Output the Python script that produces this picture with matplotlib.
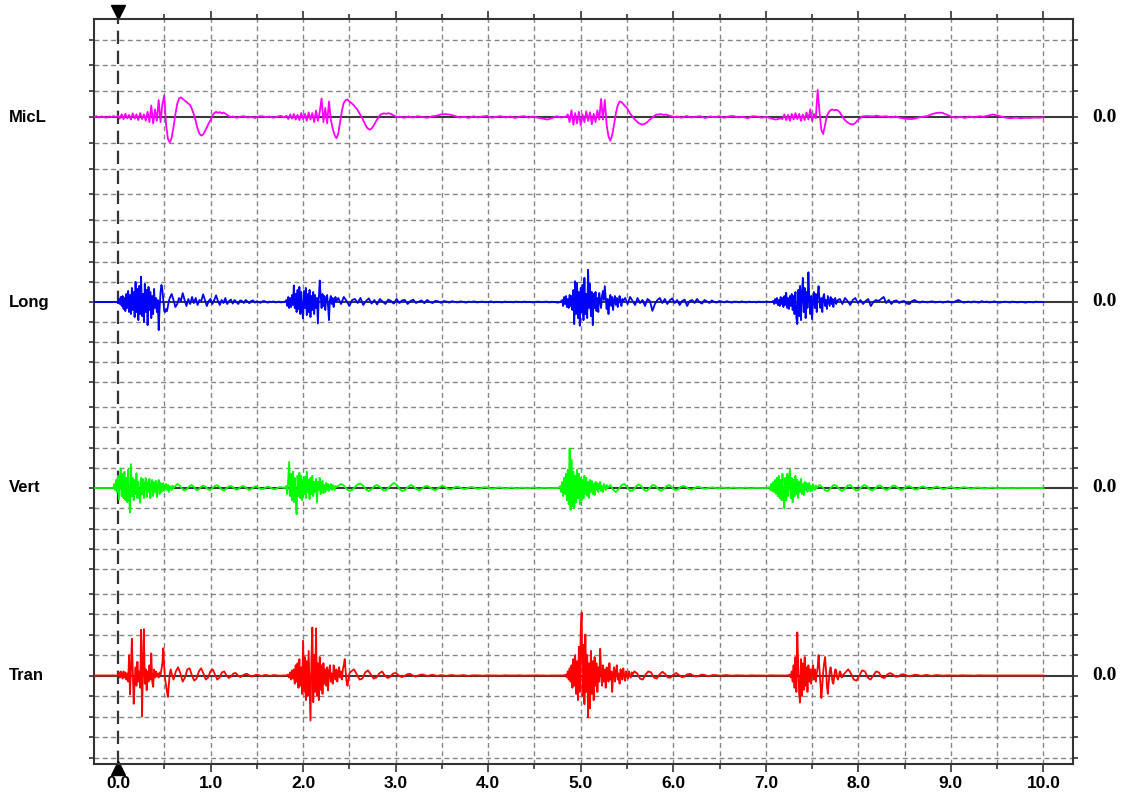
import numpy as np
import matplotlib
matplotlib.use("Agg")
import matplotlib.pyplot as plt
import matplotlib.transforms as mtransforms

# ---- channel data: each channel is a list of sampled spans (t_start, t_end) with
# ---- the sample values (in grid divisions of that channel) read off the record
channels = ["MicL", "Long", "Vert", "Tran"]
colors = ["#ff00ff", "#0000ff", "#00ff00", "#ff0000"]

micl_spans = [(-0.26, -0.02), (0.0, 1.22), (1.24, 1.80), (1.82, 3.02), (3.04, 4.84),
              (4.86, 6.02), (6.04, 7.16), (7.18, 8.06), (8.10, 10.0)]
micl_vals = [
    [0, 0.03, -0.02, 0.02, 0, -0.03, 0.02, 0, 0.03, 0],
    [0.05, -0.06, 0.1, -0.08, 0.12, -0.05, 0.08, -0.1, 0.14, -0.06, 0.1, -0.12, 0.15, -0.08, 0.1, -0.14, 0.2,
     -0.2, 0.45, -0.25, 0.3, -0.15, 0.66, -0.2, 0.5, 0.83,
     -0.3, -0.85, -0.99, -0.8, -0.4, 0.1, 0.5, 0.72, 0.76, 0.7, 0.64, 0.58, 0.52, 0.46, 0.3, 0.1,
     -0.15, -0.45, -0.65, -0.72, -0.68, -0.55, -0.4, -0.25, -0.12, 0.05, 0.15, 0.2, 0.16, 0.19,
     0.14, 0.17, 0.13, 0.08, 0.03, 0.0],
    [0.02, -0.03, 0.01, 0.03, -0.02, 0, -0.04, 0.02, 0.03, -0.01, 0.02, -0.03, 0.01, 0.04, -0.02],
    [0.05, -0.08, 0.1, -0.06, 0.12, -0.1, 0.08, -0.12, 0.15, -0.08, 0.12, -0.15, 0.18, -0.1, 0.15, -0.2, 0.25, -0.15, 0.2,
     0.72, -0.2, 0.35, -0.25, 0.6, -0.1, -0.45, -0.7, -0.82, -0.65, -0.2, 0.25, 0.55, 0.65, 0.68, 0.6,
     0.55, 0.48, 0.4, 0.32, 0.2, 0.08, -0.05, -0.2, -0.35, -0.45, -0.49, -0.45, -0.35, -0.22, -0.1,
     0.02, 0.1, 0.13, 0.14, 0.12, 0.15, 0.13, 0.1, 0.06, 0.02, 0.0],
    [0.01, -0.03, 0.02, -0.02, 0.03, 0, -0.03, 0.02, 0.05, 0.1, 0.11, 0.09, 0.04, -0.02, 0.01, -0.04,
     0.03, -0.02, 0.02, 0.04, -0.03, 0.01, 0.03, -0.02, 0.02, -0.04, 0.01, 0.03, -0.02, 0.02, -0.03,
     -0.06, -0.1, -0.04, 0.03, -0.02, 0.01],
    [0.1, -0.2, 0.26, -0.3, 0.15, -0.25, 0.2, -0.33, 0.1, -0.2, 0.22, -0.15, 0.18, -0.28, 0.12, -0.2, 0.26, -0.1,
     0.7, -0.1, 0.66, -0.3, -0.75, -0.92, -0.7, -0.3, 0.15, 0.45, 0.6, 0.58, 0.5, 0.42, 0.35, 0.22,
     0.1, 0.02, -0.08, -0.15, -0.22, -0.26, -0.29, -0.28, -0.25, -0.2, -0.12, -0.06, 0.0, 0.05, 0.1,
     0.09, 0.11, 0.1, 0.08, 0.1, 0.07, 0.05, 0.03, 0.01, 0.0],
    [0.02, -0.03, 0.04, -0.02, 0.01, 0.03, -0.04, 0.02, -0.01, 0.03, -0.03, 0.02, 0.04, -0.02, 0.01,
     -0.05, 0.03, 0.02, -0.03, 0.01, -0.06, -0.1, -0.05],
    [-0.08, 0.1, -0.12, 0.08, -0.15, 0.12, -0.1, 0.15, -0.08, 0.12, -0.15, 0.1, -0.12, 0.18, -0.1, 0.3, -0.15, 0.12, -0.05,
     1.05, 0.2, -0.5, -0.66, -0.3, 0.05, 0.18, 0.27, 0.29, 0.26, 0.28, 0.25, 0.18, 0.06, -0.05, -0.14,
     -0.2, -0.25, -0.28, -0.29, -0.25, -0.18, -0.1, -0.04, 0.02, 0.03],
    [0.04, 0.02, 0.05, 0.01, 0.03, -0.02, 0.02, -0.03, -0.06, -0.08, -0.07, -0.02, 0.01, 0.04, 0.12,
     0.16, 0.17, 0.1, 0.02, -0.03, 0.01, -0.04, 0.02, -0.02, 0.03, 0.01, 0.05, 0.1, 0.06, 0.01, -0.03,
     -0.05, -0.02, -0.05, -0.03, -0.04, -0.02, -0.03, -0.01],
]

long_spans = [(-0.26, -0.02), (0.0, 0.55), (0.56, 1.80), (1.82, 2.36), (2.38, 4.78),
              (4.80, 5.46), (5.48, 7.06), (7.08, 7.78), (7.80, 10.0)]
long_vals = [
    [0, 0],
    [0.0, 0.15, -0.1, 0.25, -0.2, 0.3, -0.35, 0.2, -0.45, 0.4, -0.3, 0.55, -0.5, 0.35, -0.6, 0.7,
     -0.4, 0.5, -0.75, 1.0, -0.5, 0.65, -0.9, 0.8, -0.6, 1.26, -0.7, 0.4, -1.0, 0.9, -0.5, 0.6,
     -1.15, 0.75, -0.4, 0.5, -0.8, 0.3, -0.6, 0.65, -0.3, 0.2, -0.5, 0.1, -1.4, -0.3, 0.5, 0.85,
     0.6, 0.1, -0.45, -0.5, -0.35, -0.45, -0.2, 0.05],
    [0.2, 0.4, 0.1, -0.25, -0.1, 0.2, 0.05, 0.44, 0.1, -0.2, 0.15, -0.1, 0.25, -0.05, 0.2, -0.15,
     0.1, 0.05, 0.38, 0.1, -0.2, 0.05, 0.15, -0.1, 0.1, 0.33, 0.05, -0.15, 0.1, -0.05, 0.2, -0.1,
     0.05, 0.12, -0.08, 0.1, 0.0, -0.1, 0.08, 0.05, -0.05, 0.1, 0.02, -0.06, 0.05, 0.08, -0.03,
     0.04, 0.0, -0.04, 0.03, 0.05, 0.0, -0.03, 0.02, 0.0, 0.03, -0.02, 0.0, 0.02, -0.02, 0.0, 0.0],
    [0.1, -0.2, 0.25, -0.3, 0.2, -0.25, 0.35, -0.15, 0.82, -0.3, 0.4, -0.5, 0.6, -0.35, 0.75, -0.6,
     0.5, -0.4, -0.82, 0.55, -0.3, 0.7, -0.65, 0.4, -0.5, 0.6, -0.75, 0.3, -0.4, 0.5, -0.6, 0.35,
     -0.3, 0.2, -1.07, 0.2, 1.07, 0.3, -0.3, 0.4, -0.2, 0.3, -0.4, 0.15, 0.35, -0.2, -0.9, 0.1,
     0.3, -0.1, 0.2, -0.25, 0.1, 0.25, 0.05],
    [0.2, -0.1, 0.25, 0.05, -0.2, 0.1, 0.15, -0.05, 0.2, -0.15, 0.05, 0.18, -0.08, 0.1, -0.12, 0.15,
     0.02, -0.1, 0.12, 0.05, -0.08, 0.15, -0.05, 0.08, 0.1, -0.1, 0.05, 0.12, -0.05, 0.02, 0.08,
     -0.06, 0.1, 0.0, -0.05, 0.06, 0.03, -0.04, 0.05, 0.02, -0.03, 0.04, 0.0, -0.02, 0.03, 0.01,
     -0.03, 0.02, 0.0, 0.03, -0.02, 0.01, 0.02, -0.01, 0.0, 0.03, -0.02, 0.01, 0.0, -0.02, 0.02,
     0.0, 0.01, -0.02, 0.02, 0.0, -0.01, 0.02, 0.0, 0.01, -0.02, 0.0, 0.02, -0.01, 0.0, 0.02,
     -0.02, 0.01, 0.0, -0.03, 0.0],
    [0.1, -0.2, 0.25, -0.1, 0.3, -0.25, 0.15, -0.3, 0.35, -0.2, 0.3, -0.4, 0.6, -1.1, 1.03, -0.6,
     0.95, -0.8, 0.5, -1.18, 0.7, -0.5, 0.85, -0.9, 1.2, -0.6, 0.4, -0.8, 1.6, -0.3, 0.9, -0.7,
     0.5, -1.15, 0.4, -0.3, 0.5, -0.45, 0.2, -0.5, 0.45, 0.1, -0.3, 0.3, 0.55, 0.1, 0.79, 0.2,
     -0.35, 0.15, -0.6, 0.1, 0.35, -0.2, 0.25, -0.4, 0.1, 0.3, -0.15, 0.2, -0.25, 0.05, 0.3, 0.0,
     -0.2, 0.15, 0.05],
    [0.2, -0.1, 0.25, 0.05, -0.15, 0.2, -0.05, 0.1, -0.2, 0.15, 0.05, -0.44, -0.1, 0.1, 0.2, -0.05,
     0.15, -0.1, 0.08, 0.18, -0.05, 0.1, -0.15, 0.05, 0.12, -0.2, 0.05, 0.1, -0.05, 0.15, 0.0,
     -0.08, 0.1, 0.03, -0.05, 0.08, 0.0, -0.03, 0.05, 0.02, -0.02, 0.04, 0.0, -0.03, 0.02, 0.01,
     -0.02, 0.03, 0.0, -0.02, 0.02, 0.0, 0.01, -0.02, 0.02, 0.0, -0.01, 0.03, 0.0, 0.0],
    [0.05, -0.1, 0.15, -0.05, 0.2, -0.15, 0.1, -0.2, 0.25, -0.1, 0.2, -0.25, 0.3, -0.15, 0.46, -0.3,
     0.2, -0.35, 0.3, -0.2, 0.4, -0.4, 0.3, -0.6, 0.5, -0.8, -1.1, 0.6, -0.7, 0.8, -0.9, 0.4, 1.2,
     -0.5, 0.7, -0.8, 0.5, -0.3, 1.48, 0.2, -0.6, 0.3, -0.85, 0.1, 0.5, -0.3, 0.4, -0.5, 0.3, 0.79,
     0.1, -0.3, 0.2, -0.5, 0.25, 0.4, -0.2, 0.1, -0.35, 0.3, 0.05, -0.2, 0.25, -0.1, 0.15, -0.25,
     0.1, 0.2, -0.1, 0.05, 0.1],
    [0.15, -0.1, 0.2, 0.05, -0.15, 0.1, 0.2, -0.05, 0.1, -0.1, 0.05, 0.15, -0.2, 0.0, 0.1, 0.05,
     0.15, 0.25, -0.05, 0.1, -0.1, 0.05, 0.08, -0.05, 0.03, 0.05, -0.08, -0.1, 0.05, 0.1, 0.02,
     -0.03, 0.03, 0.0, -0.02, 0.02, 0.03, -0.02, 0.0, 0.02, -0.03, 0.01, 0.03, 0.0, -0.02, 0.05,
     0.1, 0.03, -0.03, 0.0, 0.02, -0.02, 0.03, 0.0, -0.03, 0.04, 0.0, 0.02, -0.02, 0.0, 0.03, -0.01,
     -0.03, 0.0, 0.02, 0.0, -0.02, 0.02, 0.0, -0.02, 0.01, 0.0, -0.03, 0.0, 0.0, -0.02, 0.02, 0.0,
     0.0, 0.0],
]

vert_spans = [(-0.26, -0.06), (-0.05, 0.60), (0.62, 1.80), (1.82, 2.36), (2.38, 4.76),
              (4.78, 5.30), (5.32, 7.02), (7.04, 7.56), (7.58, 10.0)]
vert_vals = [
    [0, 0],
    [0.0, 0.2, -0.1, 0.4, -0.2, 0.6, -0.56, 0.5, 0.97, -0.4, 0.7, -0.5, 0.8, -0.6, 0.5, -0.7, 0.9,
     -0.5, -1.2, 1.18, -0.4, 0.5, -0.6, 0.4, -0.3, 0.73, -0.5, 0.3, -0.4, -0.73, 0.5, -0.3, 0.45,
     -0.5, 0.2, 0.5, -0.45, 0.3, -0.2, 0.45, -0.5, 0.2, 0.4, -0.4, 0.3, -0.2, 0.35, -0.45, 0.1,
     0.4, -0.3, 0.25, -0.2, 0.1, 0.25, -0.15, 0.05, 0.2, -0.1, 0.15, -0.2, 0.1, 0.05, -0.1, 0.12, 0.0],
    [0.1, 0.2, 0.1, -0.05, -0.12, -0.05, 0.08, 0.15, 0.05, -0.1, -0.08, 0.05, 0.12, 0.06, -0.06,
     -0.1, 0.0, 0.1, 0.14, 0.05, -0.08, -0.12, -0.02, 0.08, 0.1, 0.02, -0.08, -0.06, 0.04, 0.1,
     0.05, -0.05, -0.1, -0.02, 0.06, 0.08, 0.0, -0.06, -0.04, 0.04, 0.07, 0.02, -0.05, -0.06, 0.0,
     0.05, 0.03, 0.0],
    [0.1, -0.3, 0.5, 1.29, -0.4, 0.7, -0.6, 0.8, -0.7, 0.5, -0.5, -1.29, 0.6, -0.4, 0.75, -0.5, 0.6,
     -0.6, 0.4, -0.3, 0.55, -0.5, 0.8, -0.2, 0.4, -0.55, 0.5, -0.3, 0.6, -0.4, 0.3, -0.2, 0.45,
     -0.73, 0.3, -0.1, 0.5, -0.3, 0.2, 0.35, -0.25, 0.15, -0.2, 0.25, -0.1, 0.2, -0.15, 0.1, 0.2,
     -0.1, 0.15, 0.05, -0.1, 0.1, 0.05],
    [0.1, 0.2, 0.12, -0.05, -0.15, -0.1, 0.05, 0.18, 0.22, 0.1, -0.08, -0.15, -0.05, 0.1, 0.15,
     0.05, -0.1, -0.12, 0.0, 0.15, 0.25, 0.15, -0.05, -0.15, -0.1, 0.05, 0.15, 0.08, -0.05, -0.12,
     -0.05, 0.08, 0.1, 0.02, -0.08, -0.1, 0.0, 0.1, 0.08, -0.02, -0.08, -0.04, 0.05, 0.06, 0.0,
     -0.05, -0.03, 0.03, 0.05, 0.0, -0.04, -0.02, 0.03, 0.04, 0.0, -0.03, -0.02, 0.02, 0.03, 0.0,
     -0.02, 0.0, 0.02, 0.01, -0.02, 0.0, 0.02, 0.0, -0.01, 0.01, 0.02, 0.0, -0.02, 0.0, 0.01, 0.0,
     -0.01, 0.0, 0.0, 0.0],
    [0.1, -0.2, 0.3, -0.4, 0.5, -0.3, 0.7, -0.6, 0.9, -0.8, 1.95, -1.08, 1.4, -0.9, 0.8, -1.0, 0.6,
     -0.7, 0.9, -0.5, 0.7, -0.8, 0.5, -0.6, 0.4, -0.5, 0.6, -0.3, 0.5, -0.4, 0.3, -0.5, 0.4, -0.2,
     0.35, -0.3, 0.2, -0.35, 0.3, -0.1, 0.25, -0.2, 0.15, 0.3, -0.15, 0.1, -0.2, 0.2, 0.05, -0.1,
     0.15, 0.0, 0.05],
    [0.15, -0.1, -0.2, -0.05, 0.15, 0.2, 0.05, -0.15, -0.12, 0.05, 0.18, 0.1, -0.1, -0.15, 0.0,
     0.15, 0.12, -0.05, -0.15, -0.05, 0.1, 0.15, 0.02, -0.1, -0.08, 0.05, 0.1, 0.05, -0.06, -0.08,
     0.0, 0.06, 0.04, -0.02, -0.04, 0.0, 0.03, 0.02, -0.02, 0.0, 0.02, 0.0, -0.02, 0.01, 0.02, 0.0,
     -0.01, 0.0, 0.02, 0.0, -0.02, 0.0, 0.01, 0.0, 0.0, 0.0, 0.0],
    [0.05, -0.1, 0.2, -0.15, 0.3, -0.2, 0.4, -0.3, 0.5, -0.4, 0.6, -0.5, 0.4, -0.6, 0.7, -0.5, -1.0,
     0.5, -0.6, 0.7, -0.4, 0.6, 0.9, -0.5, 0.5, -0.7, 0.4, -0.4, 0.6, -0.3, 0.4, -0.5, 0.3, -0.2,
     0.45, -0.3, 0.2, -0.35, 0.3, -0.1, 0.25, -0.2, 0.15, 0.25, -0.15, 0.1, -0.15, 0.2, 0.0, -0.1,
     0.12, 0.0, 0.05],
    [0.15, 0.05, -0.12, -0.15, 0.0, 0.15, 0.12, -0.05, -0.15, -0.05, 0.12, 0.15, 0.0, -0.12, -0.1,
     0.05, 0.15, 0.08, -0.08, -0.12, 0.0, 0.12, 0.1, -0.05, -0.1, -0.02, 0.1, 0.12, 0.0, -0.1,
     -0.06, 0.06, 0.1, 0.02, -0.08, -0.06, 0.04, 0.08, 0.02, -0.06, -0.05, 0.03, 0.07, 0.02, -0.05,
     -0.04, 0.03, 0.05, 0.0, -0.04, -0.02, 0.03, 0.04, 0.0, -0.03, -0.01, 0.02, 0.02, 0.0, -0.02,
     0.0, 0.01, 0.02, 0.0, -0.01, 0.0, 0.01, 0.0, 0.0, -0.01, 0.0, 0.01, 0.0, 0.0, 0.0, 0.0, 0.0,
     0.0, 0.0, 0.0, 0.0],
]

tran_spans = [(-0.26, -0.01), (0.0, 0.58), (0.60, 1.82), (1.84, 2.50), (2.52, 4.82),
              (4.84, 5.56), (5.58, 7.24), (7.26, 7.84), (7.86, 10.0)]
tran_vals = [
    [0, 0],
    [0.0, 0.15, -0.1, 0.2, 0.05, -0.15, 0.2, -0.1, 0.15, -0.2, 0.1, -0.3, 1.0, -0.92, 0.3, 1.79,
     0.2, -1.38, -0.3, 0.4, -0.5, 0.67, -0.3, 0.2, -0.6, 2.23, -2.0, 0.5, 2.26, -0.4, 0.3, -0.72,
     0.2, -0.3, 0.5, -0.2, 1.08, -0.3, -0.55, 0.3, -0.1, 0.2, -0.05, 0.1, -0.1, 0.15, 0.05, 0.3,
     0.6, 1.33, 0.4, -0.2, -0.5, -0.8, -1.05, -0.4, 0.1, 0.3, 0.1],
    [-0.2, 0.2, 0.4, 0.1, -0.3, -0.1, 0.3, 0.35, 0.0, -0.25, -0.15, 0.2, 0.35, 0.1, -0.2, -0.1,
     0.2, 0.3, 0.05, -0.2, -0.1, 0.15, 0.2, 0.0, -0.12, -0.05, 0.1, 0.12, 0.0, -0.08, 0.0, 0.06,
     0.08, 0.0, -0.05, 0.0, 0.04, 0.02, -0.03, 0.0, 0.03, 0.0, -0.02, 0.01, 0.02, 0.0, -0.01, 0.0,
     0.0, 0.0],
    [0.05, -0.1, 0.15, -0.2, 0.25, -0.15, 0.3, -0.4, 0.5, -0.3, 0.6, -0.6, 0.8, -0.5, 0.4, -0.9,
     1.7, -0.8, 0.9, -1.2, 0.7, -1.0, 1.2, -0.6, -2.2, 0.8, 2.34, -1.3, 1.0, -0.8, 2.3, -1.0, 0.6,
     -1.2, 0.9, -0.7, 0.5, -0.9, 0.6, -0.4, 0.3, -0.5, 0.4, -0.73, 0.2, 0.5, -0.3, 0.1, -0.4, 0.5,
     0.2, -0.2, 0.3, -0.3, 0.1, 0.4, -0.1, 0.2, -0.2, 0.3, 0.5, 0.8, 0.2, -0.3, -0.5, -0.2, 0.1],
    [0.2, 0.3, 0.05, -0.2, -0.15, 0.15, 0.25, 0.05, -0.15, -0.1, 0.1, 0.2, 0.0, -0.12, -0.05, 0.1,
     0.12, 0.0, -0.08, -0.03, 0.06, 0.08, 0.0, -0.05, 0.0, 0.05, 0.03, -0.03, 0.0, 0.04, 0.0, -0.02,
     0.02, 0.0, -0.02, 0.01, 0.02, 0.0, -0.01, 0.0, 0.02, 0.0, -0.02, 0.0, 0.01, 0.0, 0.0, -0.01,
     0.0, 0.01, 0.0, 0.0, 0.0, -0.01, 0.0, 0.01, 0.0, 0.0, 0.0, 0.0, 0.01, 0.0, -0.01, 0.0, 0.0,
     0.0, 0.01, 0.0, 0.0, 0.0, -0.01, 0.0, 0.0, 0.0, 0.0, 0.0, 0.0],
    [0.05, -0.1, 0.2, -0.2, 0.35, -0.3, 0.5, -0.6, 0.8, -0.5, 1.0, -0.9, 0.7, -1.2, 1.4, -0.8, 2.2,
     3.07, -1.0, 1.5, -1.4, 2.0, -0.8, 1.0, -2.05, 0.6, -1.6, 1.2, -0.9, 0.7, -1.2, 0.9, -0.5, 0.6,
     -0.8, 0.4, -0.3, 1.3, 0.2, -0.5, 0.5, -0.3, 0.3, -0.6, 0.4, 0.1, -0.3, 0.6, -0.2, 0.2, -0.8,
     0.1, 0.4, -0.3, 0.2, 0.5, -0.2, 0.1, -0.4, 0.3, 0.1, -0.2, 0.35, 0.0, -0.25, 0.2, 0.05, -0.15,
     0.2, 0.0, -0.1, 0.15, 0.05],
    [0.2, 0.1, -0.15, -0.2, 0.05, 0.2, 0.15, -0.1, -0.15, 0.05, 0.18, 0.08, -0.1, -0.1, 0.05, 0.12,
     0.02, -0.08, -0.05, 0.06, 0.08, 0.0, -0.05, -0.02, 0.04, 0.03, -0.02, -0.02, 0.02, 0.02, 0.0,
     -0.01, 0.01, 0.02, 0.0, -0.01, 0.0, 0.01, 0.0, 0.0, -0.01, 0.0, 0.01, 0.0, 0.0, 0.0, 0.0,
     -0.01, 0.0, 0.01, 0.0, 0.0, 0.0, 0.0, 0.0, 0.0],
    [0.05, -0.1, 0.2, -0.3, 0.5, -0.6, 0.9, -0.8, 2.1, 0.5, -0.9, -1.32, 0.8, -1.0, 0.6, -0.7, 0.9,
     -0.5, 0.4, -0.8, 0.5, -0.3, 0.3, -0.4, 0.2, 0.5, -0.2, 0.3, -0.3, 0.1, 0.4, 1.0, 0.3, -0.4,
     -1.1, -0.5, 0.2, 0.6, 0.9, 0.3, -0.5, -0.9, -0.3, 0.2, 0.4, 0.1, -0.3, -0.4, 0.0, 0.3, 0.25,
     -0.1, -0.2, 0.0, 0.2, 0.1, -0.1, 0.0, 0.05],
    [0.15, 0.3, 0.1, -0.2, -0.25, 0.0, 0.25, 0.2, -0.1, -0.2, 0.0, 0.2, 0.15, -0.08, -0.12, 0.05,
     0.12, 0.05, -0.06, -0.05, 0.05, 0.06, 0.0, -0.04, 0.0, 0.04, 0.02, -0.02, 0.0, 0.03, 0.0,
     -0.02, 0.01, 0.02, 0.0, -0.01, 0.0, 0.01, 0.0, 0.0, -0.01, 0.0, 0.01, 0.0, 0.0, 0.0, -0.01,
     0.0, 0.01, 0.0, 0.0, 0.0, 0.0, 0.0, 0.0, 0.0, 0.0, 0.0, 0.0, 0.0, 0.0, 0.0, 0.0, 0.0, 0.0, 0.0,
     0.0, 0.0, 0.0, 0.0, 0.0, 0.0],
]

x_ticks = list(range(0, 11))

# ---- layout (units of 20 px vertically, one Long division)
offsets = [32.35, 23.1, 13.8, 4.425]
gains = [1.29, 1.005, 1.0125, 1.025]
spans = [micl_spans, long_spans, vert_spans, tran_spans]
values = [micl_vals, long_vals, vert_vals, tran_vals]


def build(sp, vals):
    ts, vs = [], []
    for (a, b), v in zip(sp, vals):
        ts.append(np.linspace(a, b, len(v)))
        vs.append(np.asarray(v, dtype=float))
    return np.concatenate(ts), np.concatenate(vs)


W, H = 1121, 793
fig = plt.figure(figsize=(W / 100, H / 100), dpi=100)
ax = fig.add_axes([94 / W, 1 - 764 / H, (1073 - 94) / W, (764 - 19) / H])
ax.set_xlim(-0.259, 10.319)
ax.set_ylim(0, 37.25)

dark = "#333333"
gridc = "#858585"

# horizontal grid lines for every channel
hlines = []
for off, g in zip(offsets, gains):
    for k in [-4, -3, -2, -1, 1, 2, 3, 4]:
        y = off + k * g
        if 0.2 < y < 37.1 and all(abs(y - h) > 0.3 for h in hlines):
            hlines.append(y)
for y in hlines:
    ax.axhline(y, color=gridc, lw=1.0, dashes=(3.5, 2.5), zorder=0.5)
for xv in np.arange(0.5, 10.01, 0.5):
    ax.axvline(xv, color=gridc, lw=1.0, dashes=(3.5, 2.5), zorder=0.5)

# trigger cursor at t = 0
ax.axvline(0, color=dark, lw=1.6, dashes=(6, 3), zorder=1)
ax.plot([0], [1.0094], marker="v", ms=10, color="black", transform=ax.get_xaxis_transform(), clip_on=False)
ax.plot([0], [-0.0055], marker="^", ms=10, color="black", transform=ax.get_xaxis_transform(), clip_on=False)

lbl_tr = mtransforms.blended_transform_factory(fig.transFigure, ax.transData)
for name, col, off, g, sp, vals in zip(channels, colors, offsets, gains, spans, values):
    ax.axhline(off, color="#3a3a3a", lw=1.5, zorder=1.5)
    t, v = build(sp, vals)
    ax.plot(t, off + g * v, color=col, lw=1.3, zorder=3)
    ax.text(9 / W, off, name, transform=lbl_tr, ha="left", va="center",
            fontsize=12, fontweight="bold", family=["Liberation Sans", "DejaVu Sans"])
    ax.text(1092 / W, off, "0.0", transform=lbl_tr, ha="left", va="center",
            fontsize=14, fontweight="bold", family=["Liberation Serif", "DejaVu Serif"])

# axes ticks
ax.set_xticks(x_ticks)
ax.set_xticklabels([f"{v:.1f}" for v in x_ticks], fontsize=12.5, fontweight="bold",
                   family="Liberation Sans")
ax.set_xticks(np.arange(0.5, 10.0, 1.0), minor=True)
ax.tick_params(axis="x", which="major", direction="out", length=6, width=1.2, color=dark,
               top=True, bottom=True, pad=3)
ax.tick_params(axis="x", which="minor", direction="out", length=3.5, width=1.2, color=dark,
               top=True, bottom=True)
ax.set_yticks(sorted(hlines + offsets))
ax.set_yticklabels([])
ax.tick_params(axis="y", which="major", direction="out", length=3.5, width=1.2, color=dark,
               left=True, right=True, labelleft=False)

for s in ax.spines.values():
    s.set_color(dark)
    s.set_linewidth(1.5)

fig.savefig("out.png", dpi=100)
